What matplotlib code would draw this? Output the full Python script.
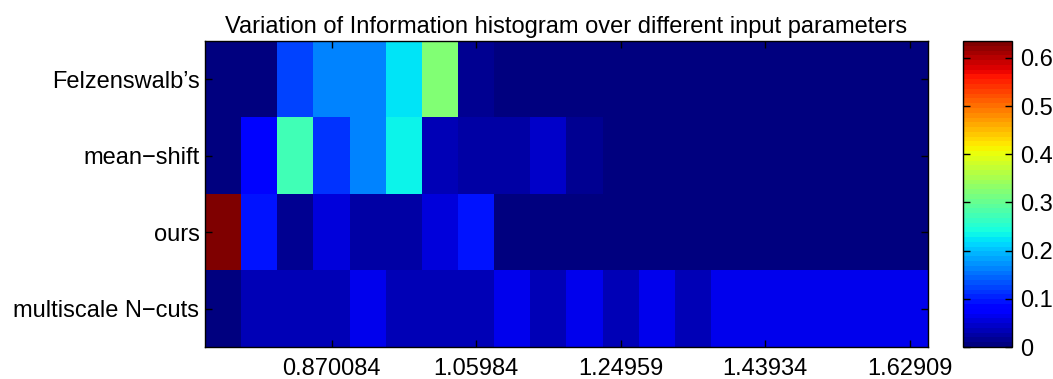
import matplotlib
matplotlib.use("Agg")
import matplotlib.pyplot as plt
import numpy as np

plt.rcParams["font.family"] = ["Liberation Sans", "DejaVu Sans"]
plt.rcParams["font.size"] = 17

# VI histogram, one row per method, 20 parameter bins
methods = ["Felzenswalb\u2019s", "mean\u2212shift", "ours", "multiscale N\u2212cuts"]
felz = [0.005, 0.005, 0.123, 0.167, 0.167, 0.220, 0.318, 0.012, 0.005, 0.005,
        0.005, 0.005, 0.005, 0.005, 0.005, 0.005, 0.005, 0.005, 0.005, 0.005]
meanshift = [0.005, 0.080, 0.270, 0.115, 0.167, 0.232, 0.032, 0.024, 0.024, 0.048,
             0.019, 0.005, 0.005, 0.005, 0.005, 0.005, 0.005, 0.005, 0.005, 0.005]
ours = [0.635, 0.096, 0.010, 0.059, 0.027, 0.027, 0.059, 0.092, 0.004, 0.004,
        0.004, 0.004, 0.004, 0.004, 0.004, 0.004, 0.004, 0.004, 0.004, 0.004]
ncuts = [0.000, 0.035, 0.035, 0.035, 0.066, 0.035, 0.035, 0.035, 0.066, 0.038,
         0.066, 0.038, 0.066, 0.038, 0.066, 0.066, 0.066, 0.066, 0.066, 0.066]

xtick_cols = [3, 7, 11, 15, 19]
xtick_labels = ["0.870084", "1.05984", "1.24959", "1.43934", "1.62909"]
cbar_ticks = [0, 0.1, 0.2, 0.3, 0.4, 0.5, 0.6]

data = np.array([felz, meanshift, ours, ncuts])

fig = plt.figure(figsize=(10.53, 3.79), dpi=100)
ax = fig.add_axes([205/1053, 32/379, 723/1053, 306/379])
cax = fig.add_axes([963/1053, 32/379, 49/1053, 306/379])

im = ax.imshow(data, cmap=plt.get_cmap("jet", 64), aspect="auto",
               interpolation="nearest", vmin=0, vmax=data.max())

ax.set_xticks(xtick_cols)
ax.set_xticklabels(xtick_labels)
ax.set_yticks(range(len(methods)))
ax.set_yticklabels(methods)
ax.tick_params(direction="in", length=5, width=1, top=True, right=True)
ax.tick_params(axis="x", pad=8)
ax.tick_params(axis="y", pad=4)
for s in ax.spines.values():
    s.set_linewidth(1)
ax.set_title("Variation of Information histogram over different input parameters",
             fontsize=17, pad=6)

cb = fig.colorbar(im, cax=cax, ticks=cbar_ticks, format="%g")
cb.outline.set_linewidth(1)
cax.tick_params(direction="in", length=5, width=1, left=True, right=True, pad=6)

fig.savefig("out.png", dpi=100)
